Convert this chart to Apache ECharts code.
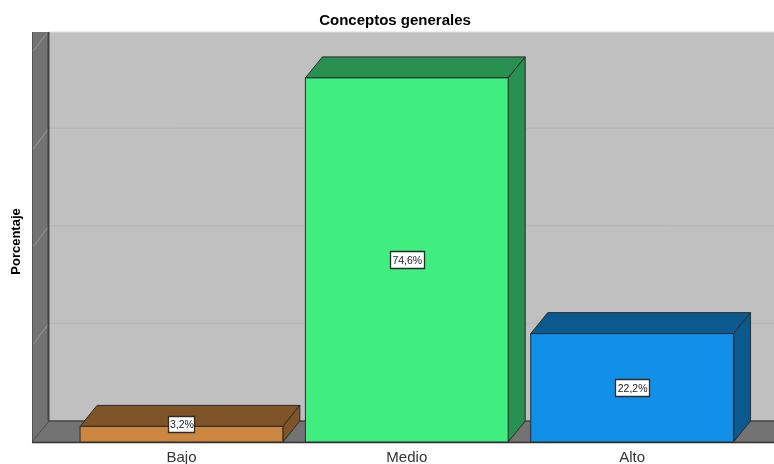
<!DOCTYPE html>
<html>
<head>
<meta charset="utf-8">
<style>html,body{margin:0;padding:0;background:#fff}#c{width:774px;height:464px}</style>
<script src="https://cdn.jsdelivr.net/npm/echarts@6/dist/echarts.min.js"></script>
</head>
<body>
<div id="c"></div>
<script>
const categories = ['Bajo', 'Medio', 'Alto'];
const values = [3.2, 74.6, 22.2];
const valueLabels = ['3,2%', '74,6%', '22,2%'];
const frontColors = ['#cc863f', '#40ee80', '#1090e8'];
const sideColors = ['#7f5428', '#289050', '#0a5a90'];
const gridValues = [0, 20, 40, 60, 80];
const yMax = 79.7;

const DX = 17, DY = 21, WALL_LEFT = 32, WALL_TOP = 32;
const EDGE = '#2b2b2b';
const chart = echarts.init(document.getElementById('c'), null, {renderer: 'canvas'});

function poly(points, fill, stroke, z2, width) {
  return {type: 'polygon', z2: z2 || 0, shape: {points},
    style: {fill, stroke: stroke || 'none', lineWidth: width === undefined ? 1 : width, lineJoin: 'round'}};
}
function line(x1, y1, x2, y2, stroke, width) {
  return {type: 'line', shape: {x1, y1, x2, y2}, style: {stroke, lineWidth: width || 1}};
}

function renderRoom(params, api) {
  const right = api.getWidth();
  const y0 = Math.round(api.coord([0, 0])[1]);
  const bx = WALL_LEFT + DX, by = y0 - DY;
  const wall = '#737373', wallEdge = '#444444';
  const ch = [
    poly([[bx, WALL_TOP], [right, WALL_TOP], [right, by], [bx, by]], '#c0c0c0'),
    poly([[WALL_LEFT, WALL_TOP], [bx, WALL_TOP], [bx, by], [WALL_LEFT, y0]], wall),
    poly([[WALL_LEFT, y0], [bx, by], [right, by], [right, y0]], wall)
  ];
  gridValues.forEach(function (v) {
    const y = api.coord([0, v])[1];
    if (v > 0) {
      if (y - DY >= WALL_TOP) ch.push(line(bx, y - DY, right, y - DY, '#b3b3b3', 1));
      const yb = y - DY;
      const sx = yb < WALL_TOP ? bx - DX * (WALL_TOP - yb) / DY : bx;
      const sy = Math.max(yb, WALL_TOP);
      ch.push(line(sx, sy, WALL_LEFT + 1, y, '#9a9a9a', 1));
    }
  });
  ch.push(line(bx, WALL_TOP, right, WALL_TOP, '#dcdcdc', 1));
  ch.push(line(WALL_LEFT + 0.5, WALL_TOP, WALL_LEFT + 0.5, y0, '#555555', 1));
  ch.push(line(bx - 0.5, WALL_TOP, bx - 0.5, by, wallEdge, 2));
  ch.push(line(bx, by, right, by, wallEdge, 1.5));
  ch.push(line(WALL_LEFT, y0, bx, by, wallEdge, 1));
  ch.push(line(WALL_LEFT, y0 + 0.5, right, y0 + 0.5, '#333333', 1.5));
  return {type: 'group', children: ch, silent: true};
}

function renderBar(params, api) {
  const i = params.dataIndex;
  const c = api.coord([api.value(0), 0]);
  const t = api.coord([api.value(0), api.value(1)]);
  const w = api.size([1, 0])[0] * 0.9;
  const l = c[0] - w / 2, r = c[0] + w / 2, y0 = c[1], y1 = t[1];
  const front = frontColors[i], side = sideColors[i];
  const h = y0 - y1;
  const short = h < 24;
  const labelY = short ? y1 - 2 : (y0 + y1) / 2;
  const boxW = short ? 26 : 34, boxH = short ? 16 : 17;
  return {type: 'group', children: [
    poly([[l, y1], [l + DX, y1 - DY], [r + DX, y1 - DY], [r, y1]], side, EDGE),
    poly([[r, y1], [r + DX, y1 - DY], [r + DX, y0 - DY], [r, y0]], side, EDGE),
    poly([[l, y1], [r, y1], [r, y0], [l, y0]], front, EDGE),
    {type: 'rect', shape: {x: Math.round(c[0] - boxW / 2) + 0.5, y: Math.round(labelY - boxH / 2) + 0.5,
        width: boxW, height: boxH},
      style: {fill: '#ffffff', stroke: '#2b2b2b', lineWidth: 1.3}},
    {type: 'text', style: {x: c[0] + 0.5, y: labelY + 1, text: valueLabels[i], fill: '#222222',
      font: '10.5px "Liberation Sans", Arial, sans-serif', align: 'center', verticalAlign: 'middle'}}
  ]};
}

chart.setOption({
  animation: false,
  backgroundColor: '#ffffff',
  title: {
    text: 'Conceptos generales', left: 390, top: 8, textAlign: 'center',
    textStyle: {fontFamily: '"Liberation Sans", Arial, sans-serif', fontSize: 15, fontWeight: 'bold', color: '#000000', lineHeight: 16}
  },
  grid: {left: 68.8, right: 29.2, top: 53, bottom: 22, outerBoundsMode: 'none'},
  xAxis: {
    type: 'category', data: categories, boundaryGap: true,
    axisLine: {show: false}, axisTick: {show: false}, splitLine: {show: false},
    axisLabel: {fontFamily: '"Liberation Sans", Arial, sans-serif', fontSize: 15, color: '#333333', margin: 8}
  },
  yAxis: {
    type: 'value', min: 0, max: yMax, interval: 20,
    axisLine: {show: false}, axisTick: {show: false}, splitLine: {show: false},
    axisLabel: {show: false},
    name: 'Porcentaje', nameLocation: 'middle', nameGap: 46, nameRotate: 90,
    nameTextStyle: {fontFamily: '"Liberation Sans", Arial, sans-serif', fontSize: 13, fontWeight: 'bold', color: '#000000', padding: [0, 0, 0, 12]}
  },
  series: [
    {type: 'custom', coordinateSystem: 'cartesian2d', z: 1, silent: true, clip: false,
      renderItem: renderRoom, data: [[0, 0]], encode: {x: 0, y: 1}},
    {type: 'custom', coordinateSystem: 'cartesian2d', z: 2, clip: false,
      renderItem: renderBar,
      data: values.map(function (v, i) { return [i, v]; }), encode: {x: 0, y: 1}}
  ]
});
</script>
</body>
</html>
